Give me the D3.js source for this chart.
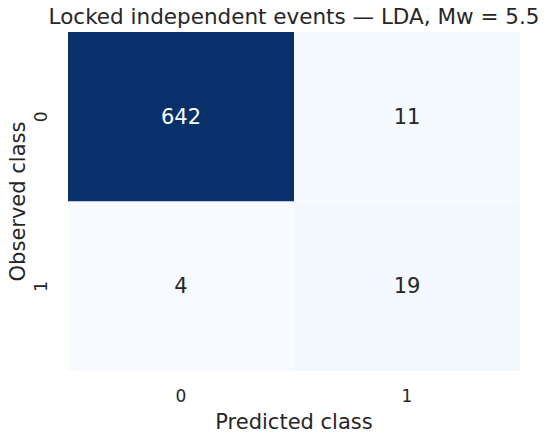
<!DOCTYPE html>
<html>
<head>
<meta charset="utf-8">
<script src="https://cdn.jsdelivr.net/npm/d3@7"></script>
<style>
  body { margin: 0; background: #fff; }
  text { font-family: "DejaVu Sans", sans-serif; fill: #262626; }
</style>
</head>
<body>
<div id="chart"></div>
<script>
// Confusion matrix data
const observedClasses = ["0", "1"]
const predictedClasses = ["0", "1"]
const counts = [
    [642, 11],
    [4, 19]
]
const titleText = "Locked independent events — LDA, Mw = 5.5"

const dimensions = {
    width: 550,
    height: 435,
    margin: { top: 32, right: 30, bottom: 64, left: 68 }
}
dimensions.boundedWidth = dimensions.width - dimensions.margin.left - dimensions.margin.right
dimensions.boundedHeight = dimensions.height - dimensions.margin.top - dimensions.margin.bottom

const cells = []
observedClasses.forEach((obs, i) => {
    predictedClasses.forEach((pred, j) => {
        cells.push({ obs: obs, pred: pred, value: counts[i][j] })
    })
})

const wrapper = d3.select("#chart")
    .append("svg")
    .attr("width", dimensions.width)
    .attr("height", dimensions.height)

const bounds = wrapper.append("g")
    .attr("transform", `translate(${dimensions.margin.left},${dimensions.margin.top})`)

// Scales
const xScale = d3.scaleBand()
    .domain(predictedClasses)
    .range([0, dimensions.boundedWidth])

const yScale = d3.scaleBand()
    .domain(observedClasses)
    .range([0, dimensions.boundedHeight])

// "Blues" ramp built from the 9 brewer stops (like matplotlib)
const [vMin, vMax] = d3.extent(cells, d => d.value)
const blues = d3.schemeBlues[9]
const colorScale = d3.scaleLinear()
    .domain(blues.map((c, i) => vMin + (vMax - vMin) * i / (blues.length - 1)))
    .range(blues)
    .interpolate(d3.interpolateRgb)

// Cells
bounds.selectAll("rect")
    .data(cells)
    .join("rect")
        .attr("x", d => xScale(d.pred))
        .attr("y", d => yScale(d.obs))
        .attr("width", xScale.bandwidth())
        .attr("height", yScale.bandwidth())
        .attr("fill", d => colorScale(d.value))

// Annotations
bounds.selectAll(".annot")
    .data(cells)
    .join("text")
        .attr("class", "annot")
        .text(d => d.value)
        .attr("x", d => xScale(d.pred) + xScale.bandwidth() / 2)
        .attr("y", d => yScale(d.obs) + yScale.bandwidth() / 2)
        .attr("text-anchor", "middle")
        .attr("dominant-baseline", "central")
        .style("font-size", "21px")
        .style("fill", d => d.value > 300 ? "#ffffff" : "#262626")

// Axes (no lines, just labels)
const xAxis = bounds.append("g")
    .attr("transform", `translate(0,${dimensions.boundedHeight})`)
    .call(d3.axisBottom(xScale).tickSize(0).tickPadding(0))
xAxis.select(".domain").remove()
xAxis.selectAll("text")
    .attr("y", 31)
    .attr("dy", null)
    .style("font-size", "17px")
    .style("font-family", "DejaVu Sans")
    .style("fill", "#262626")

const yAxis = bounds.append("g")
    .call(d3.axisLeft(yScale).tickSize(0).tickPadding(0))
yAxis.select(".domain").remove()
yAxis.selectAll("text")
    .attr("x", null)
    .attr("dy", null)
    .attr("transform", "translate(-21,0) rotate(-90)")
    .attr("text-anchor", "middle")
    .style("font-size", "17px")
    .style("font-family", "DejaVu Sans")
    .style("fill", "#262626")

// Labels
bounds.append("text")
    .text("Predicted class")
    .attr("x", dimensions.boundedWidth / 2)
    .attr("y", dimensions.boundedHeight + 58)
    .attr("text-anchor", "middle")
    .style("font-size", "21px")

bounds.append("text")
    .text("Observed class")
    .attr("transform", `translate(-43,${dimensions.boundedHeight / 2}) rotate(-90)`)
    .attr("text-anchor", "middle")
    .style("font-size", "21px")

wrapper.append("text")
    .text(titleText)
    .attr("x", dimensions.margin.left + dimensions.boundedWidth / 2)
    .attr("y", 24)
    .attr("text-anchor", "middle")
    .style("font-size", "21.5px")
</script>
</body>
</html>
